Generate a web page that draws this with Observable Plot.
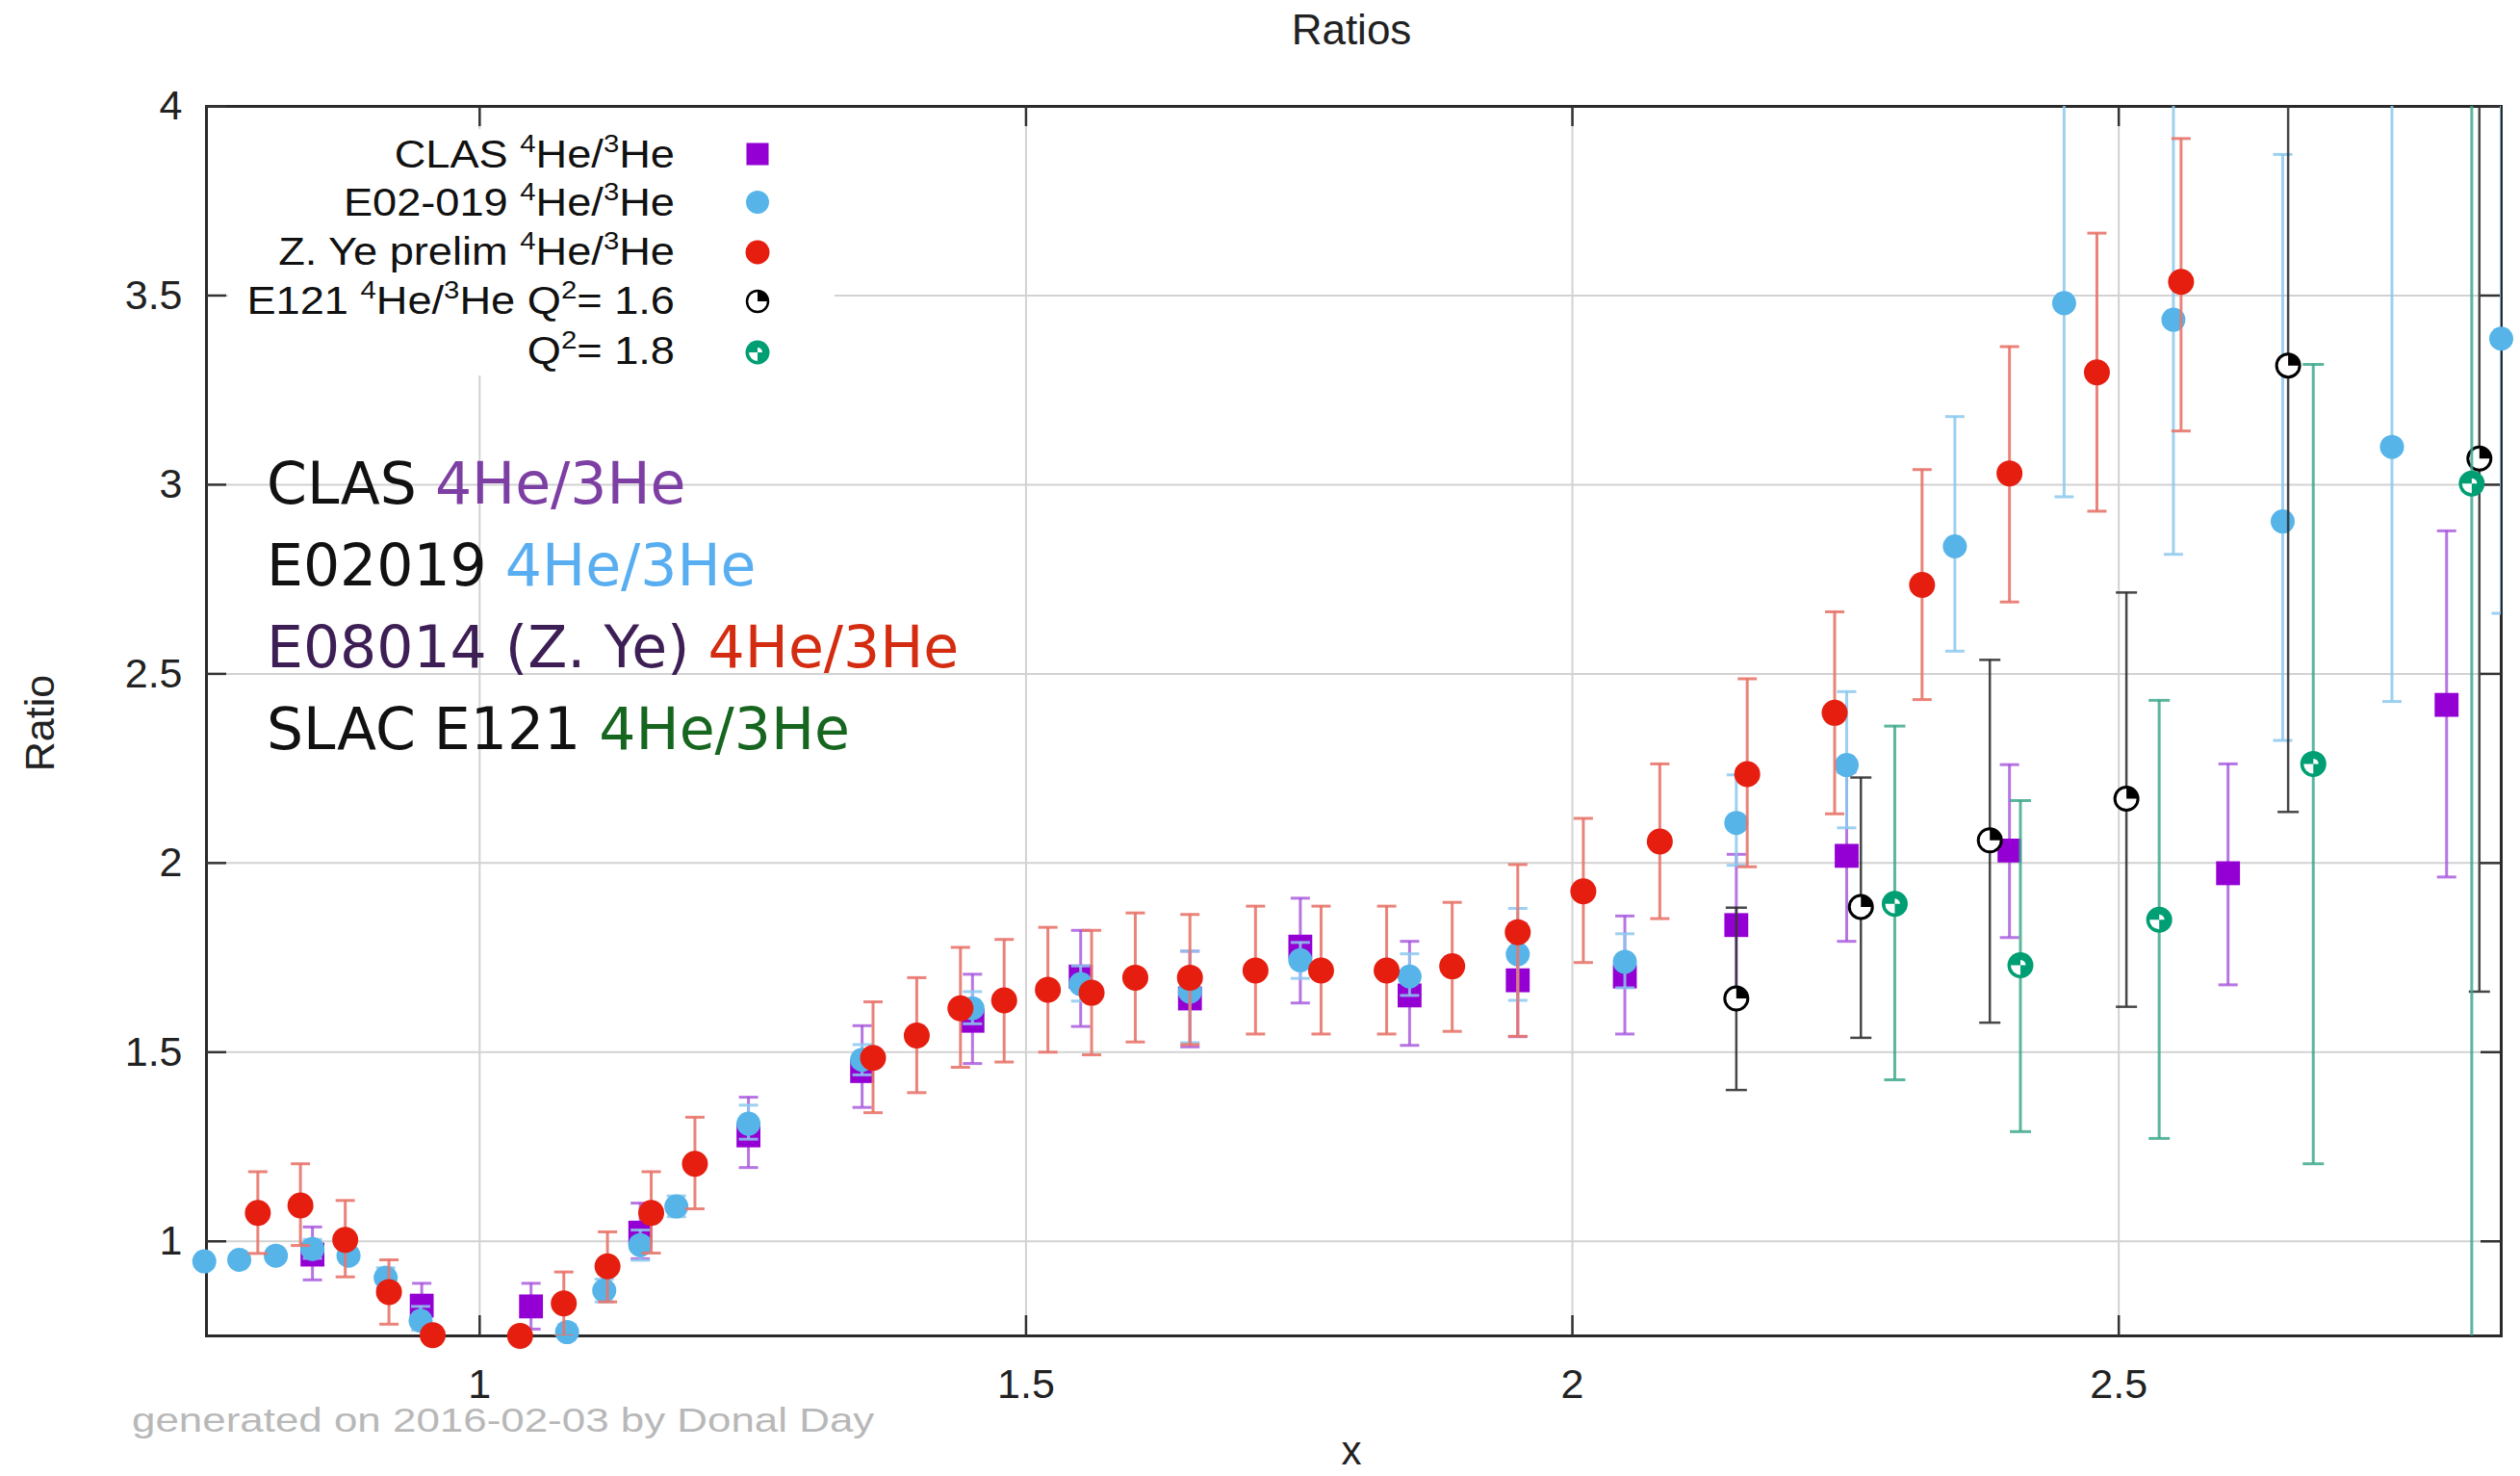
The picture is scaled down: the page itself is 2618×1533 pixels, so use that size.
<!DOCTYPE html>
<html><head><meta charset="utf-8">
<script src="https://cdn.jsdelivr.net/npm/d3@7"></script>
<script src="https://cdn.jsdelivr.net/npm/@observablehq/plot@0.6"></script>
<style>
html,body{margin:0;padding:0;background:#fff;}
#wrap{position:relative;width:2618px;height:1533px;overflow:hidden;background:#fff;}
#wrap svg.overlay{position:absolute;left:0;top:0;pointer-events:none;}
</style></head><body><div id="wrap"></div>
<script>
// ---------- tick values / labels ----------
const xTicks = [1, 1.5, 2, 2.5];
const xTickLabels = ["1", "1.5", "2", "2.5"];
const yTicks = [1, 1.5, 2, 2.5, 3, 3.5, 4];
const yTickLabels = ["1", "1.5", "2", "2.5", "3", "3.5", "4"];

// ---------- CLAS 4He/3He ----------
const clasX  = [0.847, 0.947, 1.047, 1.147, 1.246, 1.350, 1.451, 1.550, 1.650, 1.751, 1.851, 1.950, 2.048, 2.150, 2.251, 2.400, 2.600, 2.800];
const clasY  = [0.965, 0.830, 0.828, 1.023, 1.280, 1.450, 1.583, 1.700, 1.642, 1.779, 1.650, 1.690, 1.700, 1.836, 2.019, 2.033, 1.973, 2.418];
const clasLo = [0.898, 0.770, 0.768, 0.954, 1.195, 1.354, 1.470, 1.568, 1.514, 1.630, 1.518, 1.541, 1.548, 1.650, 1.793, 1.803, 1.678, 1.963];
const clasHi = [1.038, 0.889, 0.889, 1.101, 1.381, 1.570, 1.706, 1.822, 1.767, 1.907, 1.793, 1.840, 1.860, 2.023, 2.240, 2.260, 2.262, 2.878];

// ---------- E02-019 4He/3He ----------
const e02X  = [0.748, 0.780, 0.8135, 0.847, 0.880, 0.914, 0.946, 1.080, 1.114, 1.147, 1.180, 1.246, 1.350, 1.451, 1.550, 1.650, 1.751, 1.851, 1.950, 2.048, 2.150, 2.251, 2.350, 2.450, 2.550, 2.650, 2.750, 2.850];
const e02Y  = [0.947, 0.951, 0.962, 0.980, 0.962, 0.904, 0.790, 0.760, 0.870, 0.990, 1.092, 1.311, 1.480, 1.616, 1.680, 1.660, 1.743, 1.700, 1.759, 1.739, 2.106, 2.259, 2.837, 3.480, 3.436, 2.903, 3.100, 3.386];
const e02Lo = [0.932, 0.936, 0.947, 0.955, 0.945, 0.878, 0.765, 0.740, 0.840, 0.950, 1.065, 1.270, 1.440, 1.575, 1.635, 1.525, 1.695, 1.650, 1.637, 1.670, 1.994, 2.093, 2.560, 2.968, 2.816, 2.324, 2.427, 2.660];
const e02Hi = [0.962, 0.966, 0.977, 1.005, 0.979, 0.930, 0.828, 0.780, 0.900, 1.030, 1.120, 1.360, 1.520, 1.660, 1.728, 1.767, 1.790, 1.760, 1.880, 1.813, 2.233, 2.453, 3.180, 4.300, 4.300, 3.873, 4.300, 4.300];

// ---------- Z. Ye prelim 4He/3He ----------
const yeX  = [0.797, 0.836, 0.877, 0.917, 0.957, 1.037, 1.077, 1.117, 1.157, 1.197, 1.360, 1.400, 1.440, 1.480, 1.520, 1.560, 1.600, 1.650, 1.710, 1.770, 1.830, 1.890, 1.950, 2.010, 2.080, 2.160, 2.240, 2.320, 2.400, 2.480, 2.557];
const yeY  = [1.075, 1.095, 1.004, 0.866, 0.752, 0.750, 0.836, 0.934, 1.075, 1.205, 1.485, 1.544, 1.616, 1.637, 1.665, 1.657, 1.697, 1.697, 1.716, 1.716, 1.716, 1.727, 1.817, 1.925, 2.057, 2.235, 2.397, 2.735, 3.030, 3.297, 3.536];
const yeLo = [0.968, 0.989, 0.906, 0.781, 0.732, 0.730, 0.750, 0.840, 0.969, 1.086, 1.340, 1.393, 1.460, 1.474, 1.500, 1.493, 1.527, 1.520, 1.548, 1.548, 1.548, 1.555, 1.542, 1.737, 1.853, 1.990, 2.130, 2.432, 2.690, 2.930, 3.142];
const yeHi = [1.184, 1.205, 1.108, 0.951, 0.772, 0.770, 0.919, 1.025, 1.184, 1.328, 1.633, 1.697, 1.777, 1.798, 1.830, 1.822, 1.868, 1.864, 1.886, 1.886, 1.886, 1.896, 1.996, 2.118, 2.262, 2.487, 2.664, 3.040, 3.365, 3.665, 3.915];

// ---------- E121 4He/3He Q2 = 1.6 ----------
const e16X  = [2.150, 2.264, 2.382, 2.507, 2.655, 2.830];
const e16Y  = [1.642, 1.884, 2.060, 2.170, 3.315, 3.069];
const e16Lo = [1.400, 1.538, 1.578, 1.620, 2.135, 1.660];
const e16Hi = [1.882, 2.226, 2.537, 2.715, 4.300, 4.300];

// ---------- E121 4He/3He Q2 = 1.8 ----------
const e18X  = [2.295, 2.410, 2.537, 2.678, 2.823];
const e18Y  = [1.892, 1.730, 1.850, 2.262, 3.003];
const e18Lo = [1.427, 1.290, 1.272, 1.205, 0.600];
const e18Hi = [2.362, 2.165, 2.430, 3.318, 4.300];

// ---------- text ----------
const titleText = "Ratios";
const xLabel = "x";
const yLabel = "Ratio";
const footerText = "generated on 2016-02-03 by Donal Day";
const legendLabels = ["CLAS ^4He/^3He", "E02-019 ^4He/^3He", "Z. Ye prelim ^4He/^3He", "E121 ^4He/^3He Q^2= 1.6", "Q^2= 1.8"];
const noteRows = [
  [["CLAS ", "#111"], ["4He/3He", "#7d3fa3"]],
  [["E02019 ", "#111"], ["4He/3He", "#58aef0"]],
  [["E08014 (Z. Ye) ", "#3e1f55"], ["4He/3He", "#d42c10"]],
  [["SLAC E121 ", "#111"], ["4He/3He", "#176620"]]
];

// ---------- build tables ----------
const table = (xs, ys, lo, hi) => xs.map((x, i) => ({x, y: ys[i], lo: lo[i], hi: hi[i]}));
const clas = table(clasX, clasY, clasLo, clasHi);
const e02 = table(e02X, e02Y, e02Lo, e02Hi);
const ye = table(yeX, yeY, yeLo, yeHi);
const e16 = table(e16X, e16Y, e16Lo, e16Hi);
const e18 = table(e18X, e18Y, e18Lo, e18Hi);

// ---------- custom symbols ----------
const capSym = {draw(ctx, size) { const r = Math.sqrt(size / Math.PI); ctx.moveTo(-r, 0); ctx.lineTo(r, 0); }};
const wedge = (a0, a1) => ({draw(ctx, size) { const r = Math.sqrt(size / Math.PI); ctx.moveTo(0, 0); ctx.arc(0, 0, r, a0, a1); ctx.closePath(); }});
const wedgeTR = wedge(-Math.PI / 2, 0);
const wedgeBL = wedge(Math.PI / 2, Math.PI);

const W = 2618, H = 1533, mL = 214, mR = 20, mT = 110, mB = 146;
const fW = W - mL - mR, fH = H - mT - mB;

function errorBars(data, color, opacity, width, cap) {
  return [
    Plot.ruleX(data, {x: "x", y1: "lo", y2: "hi", stroke: color, strokeOpacity: opacity, strokeWidth: width, clip: true}),
    Plot.dot(data, {x: "x", y: "lo", symbol: capSym, r: cap, fill: "none", stroke: color, strokeOpacity: opacity, strokeWidth: width, clip: true}),
    Plot.dot(data, {x: "x", y: "hi", symbol: capSym, r: cap, fill: "none", stroke: color, strokeOpacity: opacity, strokeWidth: width, clip: true})
  ];
}

const chart = Plot.plot({
  width: W, height: H,
  marginLeft: mL, marginRight: mR, marginTop: mT, marginBottom: mB,
  style: {fontFamily: "'Liberation Sans', Arial, sans-serif", fontSize: "43px", color: "#222", background: "transparent", overflow: "visible"},
  x: {type: "linear", domain: [0.75, 2.85], ticks: xTicks, tickFormat: d => xTickLabels[xTicks.indexOf(d)], tickSize: 0, tickPadding: 34, label: null},
  y: {type: "linear", domain: [0.75, 4], ticks: yTicks, tickFormat: d => yTickLabels[yTicks.indexOf(d)], tickSize: 0, tickPadding: 25, label: null},
  marks: [
    Plot.ruleX(xTicks, {stroke: "#d2d2d2", strokeWidth: 2}),
    Plot.ruleY(yTicks.filter(d => d < 4), {stroke: "#d2d2d2", strokeWidth: 2}),
    Plot.frame({stroke: "#2a2a2a", strokeWidth: 3}),
    Plot.ruleX(xTicks, {insetTop: fH - 21, stroke: "#333", strokeWidth: 2.5}),
    Plot.ruleX(xTicks, {insetBottom: fH - 21, stroke: "#333", strokeWidth: 2.5}),
    Plot.ruleY(yTicks, {insetRight: fW - 21, stroke: "#333", strokeWidth: 2.5}),
    Plot.ruleY(yTicks, {insetLeft: fW - 21, stroke: "#333", strokeWidth: 2.5}),
    // CLAS
    ...errorBars(clas, "#a552dc", 0.8, 3, 10),
    Plot.dot(clas, {x: "x", y: "y", symbol: "square", r: 14, fill: "#9400d3"}),
    // E02-019
    ...errorBars(e02, "#8cc8ee", 0.85, 3, 10),
    Plot.dot(e02, {x: "x", y: "y", r: 12.5, fill: "#56b4e9"}),
    // Z. Ye
    ...errorBars(ye, "#e8756b", 0.9, 3, 10),
    Plot.dot(ye, {x: "x", y: "y", r: 13.5, fill: "#e51e10"}),
    // E121 Q2=1.6
    ...errorBars(e16, "#333333", 0.9, 2.5, 11),
    Plot.dot(e16, {x: "x", y: "y", r: 12, fill: "white", stroke: "black", strokeWidth: 3}),
    Plot.dot(e16, {x: "x", y: "y", symbol: wedgeTR, r: 12, fill: "black", stroke: "none"}),
    // E121 Q2=1.8
    ...errorBars(e18, "#3fa98d", 0.85, 3, 11),
    Plot.dot(e18, {x: "x", y: "y", r: 13.5, fill: "#009e73"}),
    Plot.dot(e18, {x: "x", y: "y", symbol: wedgeBL, r: 10, fill: "white", stroke: "none"}),
    Plot.dot(e18, {x: "x", y: "y", symbol: wedgeTR, r: 5.5, fill: "white", stroke: "none"})
  ]
});
const wrap = document.getElementById("wrap");
wrap.appendChild(chart);

// ---------- overlay: title, axis labels, key, notes, footer ----------
const ov = d3.select(wrap).append("svg").attr("class", "overlay").attr("width", W).attr("height", H)
  .style("font-family", "'Liberation Sans', Arial, sans-serif");

ov.append("text").attr("x", 1404).attr("y", 46).attr("text-anchor", "middle").attr("font-size", 44).attr("fill", "#222").text(titleText);
ov.append("text").attr("transform", "translate(56,751) rotate(-90)").attr("text-anchor", "middle").attr("font-size", 43).attr("fill", "#222").text(yLabel);
ov.append("text").attr("x", 1404).attr("y", 1521).attr("text-anchor", "middle").attr("font-size", 42).attr("fill", "#222").text(xLabel);
ov.append("text").attr("transform", "translate(137,1487) scale(1.22,1)").attr("font-size", 36).attr("fill", "#b8b8b8").text(footerText);

// key box (opaque)
ov.append("rect").attr("x", 237).attr("y", 134).attr("width", 630).attr("height", 256).attr("fill", "white");
const keyBase = [174, 224, 275, 326, 378];
const keyMid = [160, 210, 262, 313, 366];
legendLabels.forEach((lab, i) => {
  const t = ov.append("text").attr("transform", `translate(701,${keyBase[i]}) scale(1.13,1)`).attr("text-anchor", "end").attr("font-size", 40).attr("fill", "#111");
  let shifted = false;
  const parts = lab.split(/(\^.)/).filter(s => s.length);
  parts.forEach(p => {
    if (p[0] === "^") { t.append("tspan").attr("font-size", 26).attr("dy", -16).text(p[1]); shifted = true; }
    else { const s = t.append("tspan").text(p); if (shifted) { s.attr("dy", 16); shifted = false; } }
  });
});
const kx = 787;
const symPath = (type, r) => d3.symbol(type, Math.PI * r * r)();
ov.append("path").attr("d", symPath(d3.symbolSquare, 13)).attr("transform", `translate(${kx},${keyMid[0]})`).attr("fill", "#9400d3");
ov.append("circle").attr("cx", kx).attr("cy", keyMid[1]).attr("r", 12).attr("fill", "#56b4e9");
ov.append("circle").attr("cx", kx).attr("cy", keyMid[2]).attr("r", 12.5).attr("fill", "#e51e10");
ov.append("circle").attr("cx", kx).attr("cy", keyMid[3]).attr("r", 11).attr("fill", "white").attr("stroke", "black").attr("stroke-width", 2.5);
ov.append("path").attr("d", symPath(wedgeTR, 11)).attr("transform", `translate(${kx},${keyMid[3]})`).attr("fill", "black");
ov.append("circle").attr("cx", kx).attr("cy", keyMid[4]).attr("r", 12.5).attr("fill", "#009e73");
ov.append("path").attr("d", symPath(wedgeBL, 9)).attr("transform", `translate(${kx},${keyMid[4]})`).attr("fill", "white");
ov.append("path").attr("d", symPath(wedgeTR, 5)).attr("transform", `translate(${kx},${keyMid[4]})`).attr("fill", "white");

// handwritten-style notes
const noteBase = [523, 608, 693, 778];
noteRows.forEach((row, i) => {
  const t = ov.append("text").attr("x", 277).attr("y", noteBase[i]).attr("font-size", 60)
    .attr("font-family", "'Comic Sans MS', 'DejaVu Sans', sans-serif").attr("xml:space", "preserve").style("white-space", "pre");
  row.forEach(([s, c]) => t.append("tspan").attr("fill", c).text(s));
});
</script></body></html>
